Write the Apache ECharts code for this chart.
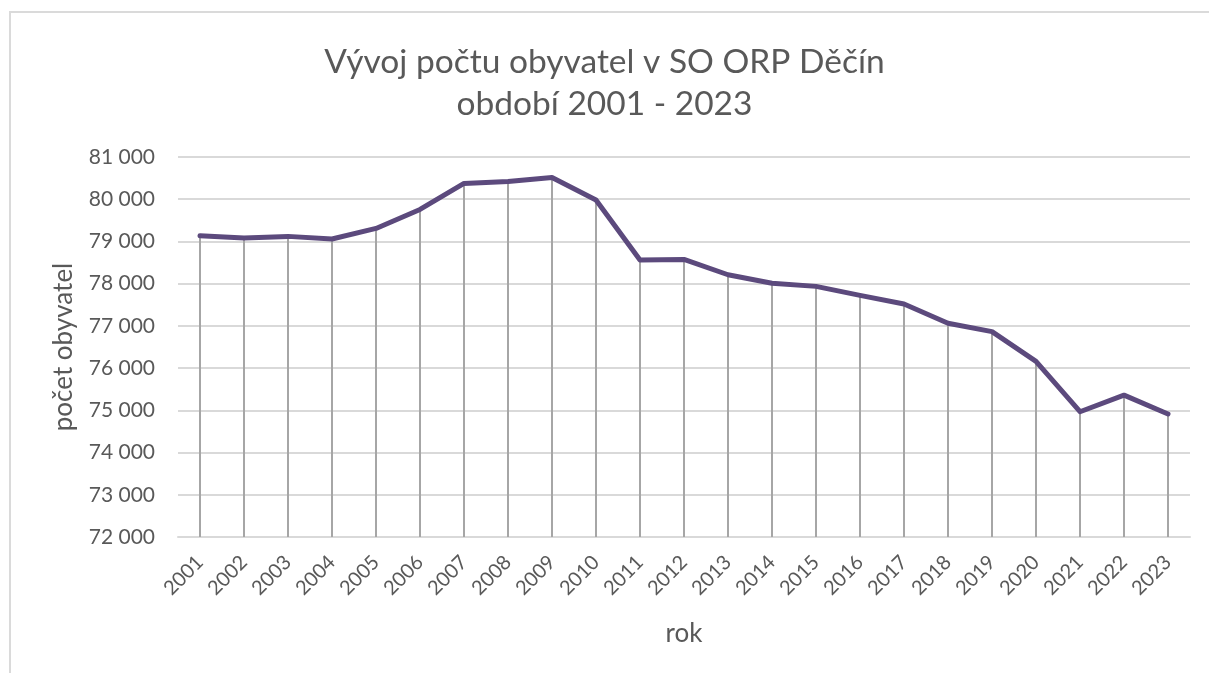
<!DOCTYPE html>
<html>
<head>
<meta charset="utf-8">
<script src="https://cdn.jsdelivr.net/npm/echarts@6/dist/echarts.min.js"></script>
<style>
  html, body { margin: 0; padding: 0; background: #fff; overflow: hidden; }
  #frame { position: absolute; left: 9px; top: 11px; width: 1300px; height: 800px; border: 2px solid #dadada; }
  #chart { position: absolute; left: 0; top: 0; width: 1209px; height: 673px; }
</style>
</head>
<body>
<div id="frame"></div>
<div id="chart"></div>
<script>
// Data
const years = ['2001', '2002', '2003', '2004', '2005', '2006', '2007', '2008', '2009', '2010', '2011', '2012',
    '2013', '2014', '2015', '2016', '2017', '2018', '2019', '2020', '2021', '2022', '2023'];
const population = [79135, 79080, 79120, 79057, 79308, 79758, 80374, 80420, 80516, 79980, 78560, 78574,
    78211, 78010, 77936, 77723, 77519, 77063, 76864, 76160, 74967, 75360, 74913];
const yMin = 72000;
const yMax = 81000;
const yStep = 1000;

const chart = echarts.init(document.getElementById('chart'));

const fontFamily = 'Lato, "Open Sans", sans-serif';
const textColor = '#595959';

const option = {
    animation: false,
    title: {
        text: 'Vývoj počtu obyvatel v SO ORP Děčín\nobdobí 2001 - 2023',
        left: 'center',
        top: 36,
        textStyle: {
            fontFamily: fontFamily,
            fontSize: 33.5,
            fontWeight: 'normal',
            color: textColor,
            lineHeight: 42
        }
    },
    grid: {
        left: 178,
        right: 19,
        top: 157,
        bottom: 136
    },
    xAxis: {
        type: 'category',
        data: years,
        boundaryGap: true,
        name: 'rok',
        nameLocation: 'middle',
        nameGap: 84,
        nameTextStyle: { fontFamily: fontFamily, fontSize: 26, color: textColor },
        axisLine: { lineStyle: { color: '#d9d9d9', width: 2 } },
        axisTick: { show: false },
        axisLabel: {
            rotate: 45,
            margin: 22,
            fontFamily: fontFamily,
            fontSize: 20,
            color: textColor,
            interval: 0
        }
    },
    yAxis: {
        type: 'value',
        min: yMin,
        max: yMax,
        interval: yStep,
        name: 'počet obyvatel',
        nameLocation: 'middle',
        nameGap: 101,
        nameTextStyle: { fontFamily: fontFamily, fontSize: 26, color: textColor },
        axisLine: { show: false },
        axisTick: { show: false },
        axisLabel: {
            margin: 23,
            fontFamily: fontFamily,
            fontSize: 21,
            color: textColor,
            formatter: v => String(v).replace(/\B(?=(\d{3})+(?!\d))/g, ' ')
        },
        splitLine: { lineStyle: { color: '#d9d9d9', width: 2 } }
    },
    series: [
        {
            // drop lines from each point down to the axis
            name: 'drop',
            type: 'bar',
            data: population,
            barWidth: 2,
            itemStyle: { color: '#a6a6a6' },
            clip: true,
            z: 1,
            silent: true
        },
        {
            name: 'počet obyvatel',
            type: 'line',
            data: population,
            symbol: 'none',
            lineStyle: { color: '#5c4a7d', width: 5, cap: 'round', join: 'round' },
            z: 3
        }
    ]
};

chart.setOption(option);
</script>
</body>
</html>
